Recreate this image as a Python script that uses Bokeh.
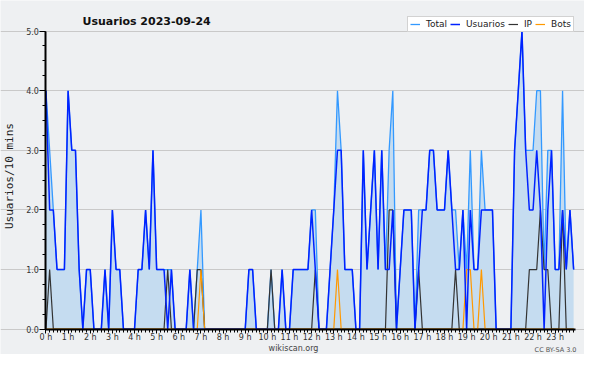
import math
from bokeh.plotting import figure
from bokeh.models import Range1d, FixedTicker, Label, Legend, LegendItem, PrintfTickFormatter
from bokeh.embed import file_html
from bokeh.resources import INLINE

# ---- data (10-minute buckets, 2023-09-24) ----
hour_labels = [f"{h} h" for h in range(24)]
y_tick_values = [0, 1, 2, 3, 4, 5]

usuarios = [
    4, 2, 2, 1, 1, 1,   4, 3, 3, 1, 0, 1,   1, 0, 0, 0, 1, 0,   2, 1, 1, 0, 0, 0,
    0, 1, 1, 2, 1, 3,   1, 1, 1, 0, 1, 0,   0, 0, 0, 1, 0, 0,   0, 0, 0, 0, 0, 0,
    0, 0, 0, 0, 0, 0,   0, 1, 1, 0, 0, 0,   0, 0, 0, 0, 1, 0,   0, 1, 1, 1, 1, 1,
    2, 1, 0, 0, 0, 1,   2, 3, 3, 1, 1, 1,   0, 0, 3, 1, 2, 3,   1, 3, 1, 1, 2, 0,
    1, 2, 2, 2, 0, 1,   2, 2, 3, 3, 2, 2,   2, 3, 2, 1, 1, 2,   0, 2, 1, 1, 2, 2,
    2, 2, 0, 0, 0, 0,   0, 3, 4, 5, 3, 2,   2, 3, 2, 0, 2, 3,   1, 1, 2, 1, 2, 1,
]
ip = [
    0, 1, 0, 0, 0, 0,   0, 0, 0, 0, 0, 0,   0, 0, 0, 0, 0, 0,   0, 0, 0, 0, 0, 0,
    0, 0, 0, 0, 0, 0,   0, 0, 0, 1, 0, 0,   0, 0, 0, 0, 0, 1,   1, 0, 0, 0, 0, 0,
    0, 0, 0, 0, 0, 0,   0, 0, 0, 0, 0, 0,   0, 1, 0, 0, 0, 0,   0, 0, 0, 0, 0, 0,
    0, 1, 0, 0, 0, 0,   0, 0, 0, 0, 0, 0,   0, 0, 0, 0, 0, 0,   0, 0, 0, 2, 2, 0,
    0, 0, 0, 0, 0, 1,   0, 0, 0, 0, 0, 0,   0, 0, 0, 1, 0, 0,   0, 0, 0, 0, 0, 0,
    0, 0, 0, 0, 0, 0,   0, 0, 0, 0, 0, 1,   1, 1, 2, 1, 1, 0,   0, 0, 2, 0, 0, 0,
]
bots = [
    0, 0, 0, 0, 0, 0,   0, 0, 0, 0, 0, 0,   0, 0, 0, 0, 0, 0,   0, 0, 0, 0, 0, 0,
    0, 0, 0, 0, 0, 0,   0, 0, 0, 0, 0, 0,   0, 0, 0, 0, 0, 0,   1, 0, 0, 0, 0, 0,
    0, 0, 0, 0, 0, 0,   0, 0, 0, 0, 0, 0,   0, 0, 0, 0, 0, 0,   0, 0, 0, 0, 0, 0,
    0, 0, 0, 0, 0, 0,   0, 1, 0, 0, 0, 0,   0, 0, 0, 0, 0, 0,   0, 0, 0, 0, 0, 0,
    0, 0, 0, 0, 0, 0,   0, 0, 0, 0, 0, 0,   0, 0, 0, 0, 0, 0,   1, 1, 0, 0, 1, 0,
    0, 0, 0, 0, 0, 0,   0, 0, 0, 0, 0, 0,   0, 0, 0, 0, 0, 0,   0, 0, 0, 0, 0, 0,
]
total = [
    4, 3, 2, 1, 1, 1,   4, 3, 3, 1, 0, 1,   1, 0, 0, 0, 1, 0,   2, 1, 1, 0, 0, 0,
    0, 1, 1, 2, 1, 3,   1, 1, 1, 1, 1, 0,   0, 0, 0, 1, 0, 1,   2, 0, 0, 0, 0, 0,
    0, 0, 0, 0, 0, 0,   0, 1, 1, 0, 0, 0,   0, 1, 0, 0, 1, 0,   0, 1, 1, 1, 1, 1,
    2, 2, 0, 0, 0, 1,   2, 4, 3, 1, 1, 1,   0, 0, 3, 1, 2, 3,   1, 3, 1, 3, 4, 0,
    1, 2, 2, 2, 0, 2,   2, 2, 3, 3, 2, 2,   2, 3, 2, 2, 1, 2,   1, 3, 1, 1, 3, 2,
    2, 2, 0, 0, 0, 0,   0, 3, 4, 5, 3, 3,   3, 4, 4, 1, 3, 3,   1, 1, 4, 1, 2, 1,
]
# time of each bucket, in hours
t = [k / 6 for k in range(len(total))]

BG = "#eef0f2"
FONT = "DejaVu Sans"
W, H = 584, 354
X_END = 23.93

# the frame covers the whole canvas; axes are pinned at x=0 / y=0
p = figure(width=W, height=H, output_backend="svg", toolbar_location=None,
           x_range=Range1d(-2.053, 24.324), y_range=Range1d(-0.4245, 5.513),
           min_border=0)
p.background_fill_color = BG
p.border_fill_color = BG
p.outline_line_color = None

# x axis
xt = FixedTicker(ticks=list(range(24)), minor_ticks=[k / 6 for k in range(144)])
p.xaxis.ticker = xt
p.xaxis.fixed_location = 0
p.xaxis.bounds = (0, X_END)
p.xaxis.major_label_overrides = {h: lab for h, lab in enumerate(hour_labels)}
p.xaxis.axis_line_width = 2
p.xaxis.major_tick_out = 4
p.xaxis.minor_tick_out = 3
p.xaxis.major_tick_in = 0
p.xaxis.minor_tick_in = 0
p.xaxis.major_label_standoff = 0
p.xaxis.major_label_text_font = FONT
p.xaxis.major_label_text_font_size = "8px"
p.xaxis.major_label_text_color = "#333333"

# y axis
yt = FixedTicker(ticks=y_tick_values, minor_ticks=[k * 0.25 for k in range(21)])
p.yaxis.ticker = yt
p.yaxis.fixed_location = 0
p.yaxis.bounds = (0, 5)
p.yaxis.formatter = PrintfTickFormatter(format="%.1f")
p.yaxis.axis_line_width = 2
p.yaxis.major_tick_out = 6
p.yaxis.minor_tick_out = 3
p.yaxis.major_tick_in = 0
p.yaxis.minor_tick_in = 0
p.yaxis.major_label_standoff = 1
p.yaxis.major_label_text_font = FONT
p.yaxis.major_label_text_font_size = "8px"
p.yaxis.major_label_text_color = "#333333"

p.xgrid.visible = False
p.ygrid.ticker = yt
p.ygrid.bounds = (0, X_END)
p.ygrid.grid_line_color = "#c9c9c9"
p.ygrid.grid_line_width = 1

# series
p.varea(x=t, y1=0, y2=total, fill_color="#c5dcf0", fill_alpha=1)
r_total = p.line(t, total, line_color="#3399ff", line_width=1.3)
r_ip = p.line(t, ip, line_color="#333333", line_width=1.2)
r_bots = p.line(t, bots, line_color="#ff9900", line_width=1.2)
r_users = p.line(t, usuarios, line_color="#0022ff", line_width=1.5)

legend = Legend(items=[LegendItem(label="Total", renderers=[r_total]),
                       LegendItem(label="Usuarios", renderers=[r_users]),
                       LegendItem(label="IP", renderers=[r_ip]),
                       LegendItem(label="Bots", renderers=[r_bots])],
                orientation="horizontal", location=(407, 322),
                label_text_font=FONT, label_text_font_size="9px", label_text_color="#222222",
                glyph_width=10, glyph_height=10, label_height=10, label_width=5,
                label_standoff=6, spacing=3, padding=2, margin=0,
                border_line_color="#a6a6a6", border_line_width=1.5,
                background_fill_color="white", background_fill_alpha=1)
p.add_layout(legend)

# texts (screen units: from the canvas' bottom-left corner, since the frame fills it)
p.add_layout(Label(x=82, y=H - 20.5, x_units="screen", y_units="screen",
                   text="Usuarios  2023-09-24", text_font=FONT, text_font_size="11px",
                   text_font_style="bold", text_color="#111111", text_baseline="alphabetic"))
p.add_layout(Label(x=8.5, y=H - 175.6, x_units="screen", y_units="screen",
                   angle=math.pi / 2, text="Usuarios/10 mins", text_font="DejaVu Sans Mono",
                   text_font_size="11px", text_color="#222222",
                   text_align="center", text_baseline="middle"))
p.add_layout(Label(x=293, y=6.5, x_units="screen", y_units="screen",
                   text="wikiscan.org", text_font=FONT, text_font_size="8px",
                   text_color="#444444", text_align="center", text_baseline="alphabetic"))
p.add_layout(Label(x=576, y=5, x_units="screen", y_units="screen",
                   text="CC BY-SA 3.0", text_font=FONT, text_font_size="6.5px",
                   text_color="#555555", text_align="right", text_baseline="alphabetic"))

open("out.html", "w").write(file_html(p, INLINE))
